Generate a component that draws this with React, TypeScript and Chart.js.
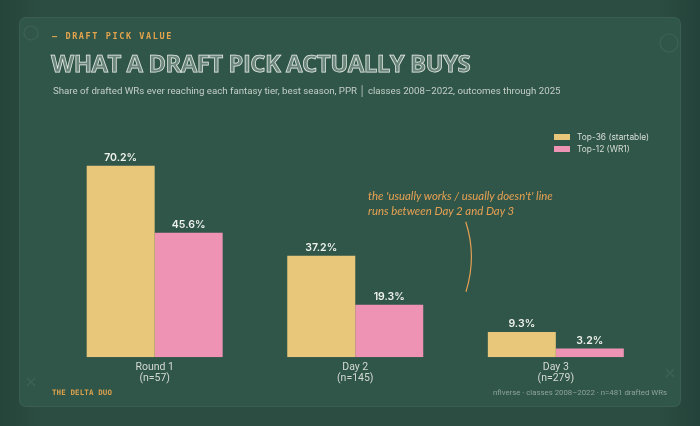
import React, { useEffect, useRef } from "react";
import { Chart, registerables } from "chart.js";

Chart.register(...registerables);

const categories: string[][] = [
  ["Round 1", "(n=57)"],
  ["Day 2", "(n=145)"],
  ["Day 3", "(n=279)"],
];
const top36Values = [70.2, 37.2, 9.3];
const top12Values = [45.6, 19.3, 3.2];
const seriesNames = ["Top-36 (startable)", "Top-12 (WR1)"];
const seriesColors = ["#e8c77a", "#ee93b4"];
const yMax = 80;

const valueLabelPlugin = {
  id: "valueLabels",
  afterDatasetsDraw(chart: any) {
    const ctx = chart.ctx;
    ctx.save();
    ctx.font = "600 10.5px Inter, 'DejaVu Sans', sans-serif";
    ctx.fillStyle = "#eef1ec";
    ctx.textAlign = "center";
    ctx.textBaseline = "middle";
    chart.data.datasets.forEach((ds: any, i: number) => {
      chart.getDatasetMeta(i).data.forEach((bar: any, j: number) => {
        ctx.fillText(Number(ds.data[j]).toFixed(1) + "%", bar.x, bar.y - 8);
      });
    });
    ctx.restore();
  },
};

function BarChart() {
  const ref = useRef<HTMLCanvasElement | null>(null);
  useEffect(() => {
    if (!ref.current) return;
    const chart = new Chart(ref.current, {
      type: "bar",
      data: {
        labels: categories,
        datasets: [
          {
            label: seriesNames[0],
            data: top36Values,
            backgroundColor: seriesColors[0],
            borderWidth: 0,
          },
          {
            label: seriesNames[1],
            data: top12Values,
            backgroundColor: seriesColors[1],
            borderWidth: 0,
          },
        ],
      },
      options: {
        responsive: false,
        animation: false,
        maintainAspectRatio: false,
        layout: { padding: { left: 54.4, right: 43.9, top: 139, bottom: 32.7 } },
        datasets: { bar: { categoryPercentage: 0.678, barPercentage: 1 } },
        plugins: {
          legend: { display: false },
          tooltip: { enabled: false },
          title: { display: false },
        },
        scales: {
          x: {
            grid: { display: false, drawTicks: false },
            border: { display: false },
            ticks: {
              color: "#d3d9d3",
              padding: 5,
              font: { family: "Roboto, 'DejaVu Sans', sans-serif", size: 10.5, lineHeight: 1.0 },
            },
            afterFit: (s: any) => {
              s.height = 36;
            },
          },
          y: {
            display: false,
            min: 0,
            max: yMax,
          },
        },
      },
      plugins: [valueLabelPlugin],
    });
    return () => chart.destroy();
  }, []);
  return (
    <canvas
      ref={ref}
      width={700}
      height={426}
      style={{ position: "absolute", left: 0, top: 0, width: 700, height: 426 }}
    />
  );
}

export default function App() {
  const mono = "'DejaVu Sans Mono', 'Liberation Mono', monospace";
  return (
    <div
      style={{
        position: "fixed",
        left: 0,
        top: 0,
        width: 700,
        height: 426,
        overflow: "hidden",
        background: "linear-gradient(90deg, #25443a 0%, #2c4d42 6%, #2c4d42 94%, #24433a 100%)",
        fontFamily: "Roboto, sans-serif",
      }}
    >
      <div
        style={{
          position: "absolute",
          left: 18.5,
          top: 17,
          width: 662,
          height: 390,
          borderRadius: 7,
          background: "#30564a",
          border: "1px solid rgba(255,255,255,0.05)",
          boxSizing: "border-box",
        }}
      />
      <svg
        width={700}
        height={426}
        style={{ position: "absolute", left: 0, top: 0 }}
      >
        <circle cx={31} cy={33} r={7} fill="none" stroke="rgba(255,255,255,0.07)" strokeWidth={1.2} />
        <circle cx={669} cy={43} r={9} fill="none" stroke="rgba(255,255,255,0.07)" strokeWidth={1.2} />
        <path d="M27 378 L35 386 M35 378 L27 386" stroke="rgba(255,255,255,0.07)" strokeWidth={1.2} />
        <path d="M666 369 L674 377 M674 369 L666 377" stroke="rgba(255,255,255,0.07)" strokeWidth={1.2} />
        <path d="M465.7 221.7 Q477 256 466 291.7" fill="none" stroke="#e39f52" strokeWidth={1.2} />
      </svg>
      <BarChart />
      <div
        style={{
          position: "absolute",
          left: 52,
          top: 30,
          fontFamily: mono,
          fontWeight: "bold",
          fontSize: 8.5,
          letterSpacing: 1.6,
          color: "#e2a44c",
          lineHeight: "12px",
          whiteSpace: "nowrap",
        }}
      >
        — DRAFT PICK VALUE
      </div>
      <div
        style={{
          position: "absolute",
          left: 51,
          top: 48,
          fontFamily: "'Open Sans', sans-serif",
          fontWeight: 700,
          fontSize: 24,
          lineHeight: "30px",
          color: "rgba(215,222,217,0.35)",
          WebkitTextStroke: "0.75px #e4e9e4",
          whiteSpace: "nowrap",
          letterSpacing: -0.55,
        }}
      >
        WHAT A DRAFT PICK ACTUALLY BUYS
      </div>
      <div
        style={{
          position: "absolute",
          left: 53,
          top: 84,
          fontSize: 9.7,
          lineHeight: "14px",
          color: "#c4cec8",
          whiteSpace: "nowrap",
        }}
      >
        Share of drafted WRs ever reaching each fantasy tier, best season, PPR{"  "}│{"  "}classes 2008–2022, outcomes through 2025
      </div>
      {seriesNames.map((name, i) => (
        <div
          key={name}
          style={{
            position: "absolute",
            left: 554,
            top: 131 + i * 12,
            height: 12,
            display: "flex",
            alignItems: "center",
            whiteSpace: "nowrap",
            fontSize: 8.4,
            color: "#d8ded8",
            fontFamily: "Inter, sans-serif",
          }}
        >
          <span
            style={{
              display: "inline-block",
              width: 16,
              height: 5.5,
              background: seriesColors[i],
              marginRight: 7,
            }}
          />
          {name}
        </div>
      ))}
      <div
        style={{
          position: "absolute",
          left: 368,
          top: 188,
          fontFamily: "Lato, sans-serif",
          fontStyle: "italic",
          fontSize: 11.4,
          lineHeight: "15px",
          color: "#e7a152",
          whiteSpace: "nowrap",
        }}
      >
        the 'usually works / usually doesn't' line
        <br />
        runs between Day 2 and Day 3
      </div>
      <div
        style={{
          position: "absolute",
          left: 52,
          top: 387,
          fontFamily: mono,
          fontWeight: "bold",
          fontSize: 7.5,
          letterSpacing: 0.1,
          color: "#d9a04c",
          lineHeight: "12px",
          whiteSpace: "nowrap",
        }}
      >
        THE DELTA DUO
      </div>
      <div
        style={{
          position: "absolute",
          right: 33,
          top: 387,
          fontSize: 7.8,
          color: "#8ea398",
          lineHeight: "12px",
          whiteSpace: "nowrap",
        }}
      >
        nflverse · classes 2008–2022 · n=481 drafted WRs
      </div>
    </div>
  );
}
